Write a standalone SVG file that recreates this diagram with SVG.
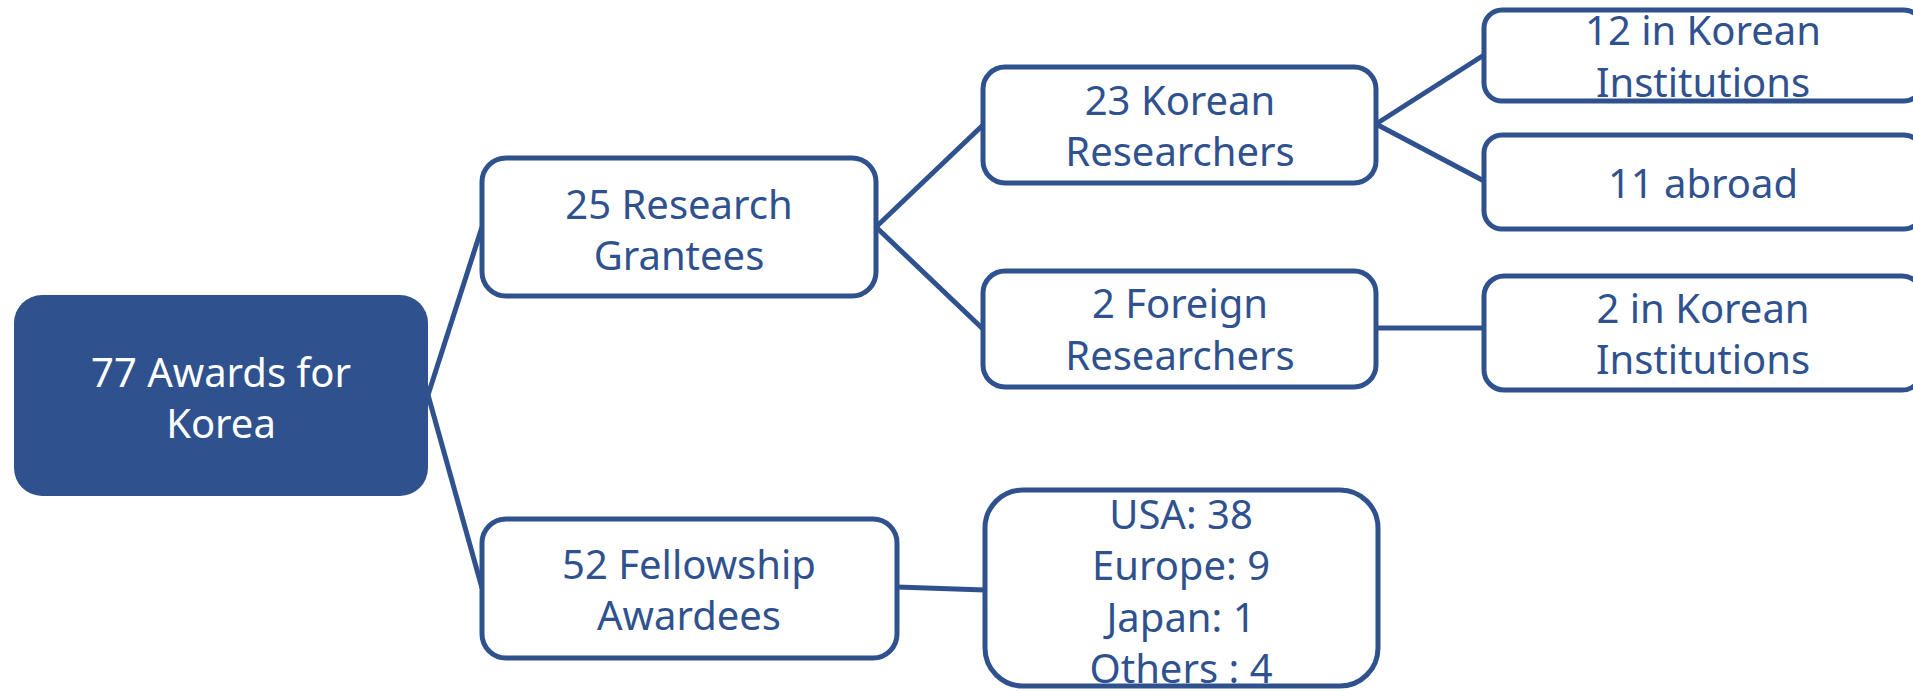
<svg xmlns="http://www.w3.org/2000/svg" width="1913" height="691" viewBox="0 0 1913 691">
<style>
.box{fill:#fff;stroke:#2F528F;stroke-width:5}
.root{fill:#2F528F;stroke:none}
.t{font-family:"Noto Sans","Liberation Sans",sans-serif;font-size:40px;fill:#2F528F;text-anchor:middle}
.tw{fill:#fff}
.c{stroke:#2F528F;stroke-width:5;fill:none}
</style>
<rect width="1913" height="691" fill="#fff"/>
<g id="connectors">
<line class="c" x1="428" y1="395" x2="482" y2="227"/>
<line class="c" x1="428" y1="395" x2="482" y2="588"/>
<line class="c" x1="876" y1="227" x2="983" y2="125"/>
<line class="c" x1="876" y1="227" x2="983" y2="329"/>
<line class="c" x1="1376" y1="124" x2="1484" y2="55"/>
<line class="c" x1="1376" y1="124" x2="1484" y2="181"/>
<line class="c" x1="1376" y1="328" x2="1484" y2="328"/>
<line class="c" x1="897" y1="587" x2="985" y2="590"/>
</g>
<g id="root">
<rect class="root" x="14" y="295" width="414" height="201" rx="28"/>
<text class="t tw" x="221" y="387">77 Awards for</text>
<text class="t tw" x="221" y="438">Korea</text>
</g>
<g id="research">
<rect class="box" x="482" y="158" width="394" height="138" rx="24"/>
<text class="t" x="679" y="219">25 Research</text>
<text class="t" x="679" y="270">Grantees</text>
</g>
<g id="korean">
<rect class="box" x="983" y="67" width="393" height="116" rx="22"/>
<text class="t" x="1180" y="115">23 Korean</text>
<text class="t" x="1180" y="166">Researchers</text>
</g>
<g id="foreign">
<rect class="box" x="983" y="271" width="393" height="116" rx="22"/>
<text class="t" x="1180" y="318">2 Foreign</text>
<text class="t" x="1180" y="370">Researchers</text>
</g>
<g id="kinst12">
<rect class="box" x="1484" y="10" width="438" height="91" rx="18"/>
<text class="t" x="1703" y="45">12 in Korean</text>
<text class="t" x="1703" y="97">Institutions</text>
</g>
<g id="abroad">
<rect class="box" x="1484" y="135" width="438" height="94" rx="18"/>
<text class="t" x="1703" y="198">11 abroad</text>
</g>
<g id="kinst2">
<rect class="box" x="1484" y="276" width="438" height="114" rx="20"/>
<text class="t" x="1703" y="323">2 in Korean</text>
<text class="t" x="1703" y="374">Institutions</text>
</g>
<g id="fellowship">
<rect class="box" x="482" y="519" width="415" height="139" rx="24"/>
<text class="t" x="689" y="579">52 Fellowship</text>
<text class="t" x="689" y="630">Awardees</text>
</g>
<g id="countries">
<rect class="box" x="985" y="490" width="393" height="196" rx="38"/>
<text class="t" x="1181" y="529">USA: 38</text>
<text class="t" x="1181" y="580">Europe: 9</text>
<text class="t" x="1181" y="632">Japan: 1</text>
<text class="t" x="1181" y="683">Others : 4</text>
</g>
</svg>
